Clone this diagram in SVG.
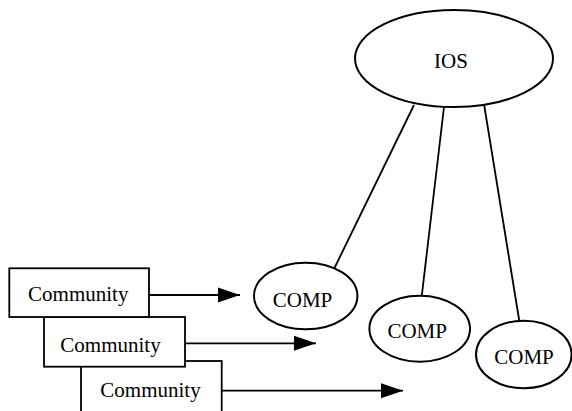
<svg xmlns="http://www.w3.org/2000/svg" width="572" height="411" viewBox="0 0 572 411">
  <defs>
    <marker id="arrow" markerWidth="22" markerHeight="16" refX="22" refY="8" orient="auto" markerUnits="userSpaceOnUse">
      <path d="M0,0.5 L22,8 L0,15.5 Z" fill="#000"/>
    </marker>
    <style>
      .box { fill: #fff; stroke: #000; stroke-width: 1.8; }
      .oval { fill: #fff; stroke: #000; stroke-width: 2; }
      .lbl { font-family: "Liberation Serif", "Times New Roman", serif; font-size: 21px; fill: #000; text-anchor: middle; }
      .link { stroke: #000; stroke-width: 1.8; fill: none; }
    </style>
  </defs>
  <rect width="572" height="411" fill="#fff"/>

  <!-- links from IOS to the components, and community arrows -->
  <g id="connectors">
    <line class="link" x1="414" y1="105" x2="334" y2="269"/>
    <line class="link" x1="444" y1="107" x2="421.7" y2="296.5"/>
    <line class="link" x1="484" y1="104" x2="519.3" y2="321"/>
    <line class="link" x1="149" y1="295" x2="240" y2="295" marker-end="url(#arrow)"/>
    <line class="link" x1="185" y1="343.3" x2="316" y2="343.3" marker-end="url(#arrow)"/>
    <line class="link" x1="221.7" y1="390.7" x2="403" y2="390.7" marker-end="url(#arrow)"/>
  </g>

  <g id="ios">
    <ellipse class="oval" cx="454" cy="58.5" rx="99" ry="48.5"/>
    <text class="lbl" x="451" y="68.3" font-size="20">IOS</text>
  </g>

  <g id="comp1">
    <ellipse class="oval" cx="305.7" cy="296" rx="51.7" ry="33.3"/>
    <text class="lbl" x="302.5" y="306.5">COMP</text>
  </g>
  <g id="comp2">
    <ellipse class="oval" cx="419.7" cy="328.7" rx="50.3" ry="33"/>
    <text class="lbl" x="417.2" y="337.5">COMP</text>
  </g>
  <g id="comp3">
    <ellipse class="oval" cx="523.8" cy="354.5" rx="47.8" ry="33.8"/>
    <text class="lbl" x="524" y="363.5">COMP</text>
  </g>

  <!-- stacked community boxes, back to front -->
  <g id="community3">
    <rect class="box" x="81" y="361" width="140.7" height="60"/>
    <text class="lbl" x="150.5" y="397.3">Community</text>
  </g>
  <g id="community2">
    <rect class="box" x="44" y="317" width="141" height="49.7"/>
    <text class="lbl" x="110.5" y="351.7">Community</text>
  </g>
  <g id="community1">
    <rect class="box" x="9.3" y="268.3" width="139.7" height="48.7"/>
    <text class="lbl" x="78.3" y="300.7">Community</text>
  </g>
</svg>
